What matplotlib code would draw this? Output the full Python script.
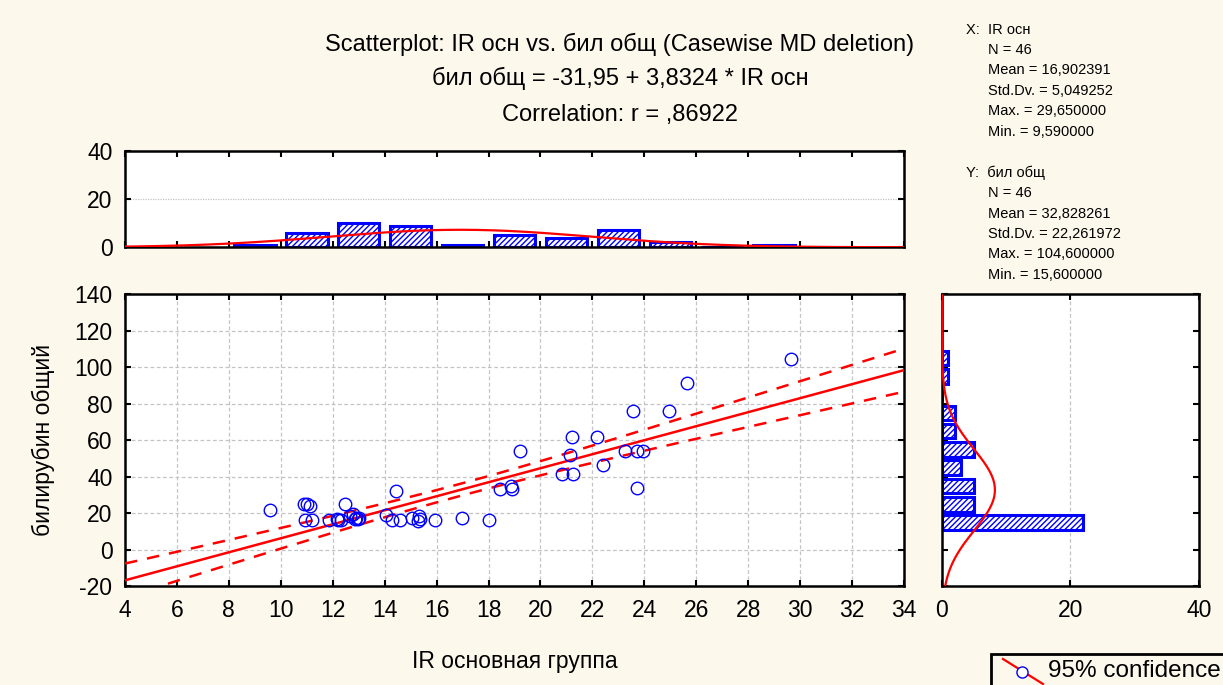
import numpy as np
import matplotlib
matplotlib.use('Agg')
from matplotlib import pyplot as plt
from matplotlib.patches import Rectangle
from matplotlib.lines import Line2D

plt.rcParams['font.family'] = ['Liberation Sans', 'DejaVu Sans']
plt.rcParams['hatch.linewidth'] = 1.0
plt.rcParams['axes.unicode_minus'] = False

# IR основная группа vs билирубин общий, 46 cases
ir_osn = [9.59, 10.89, 11.02, 11.11, 10.94, 11.19, 11.85,
          12.49, 12.18, 12.33, 12.65, 12.78, 12.91, 12.97, 12.85, 12.20, 13.00,
          14.45, 14.07, 14.30, 14.58, 15.07, 15.32, 15.35, 15.93, 15.30,
          16.99, 18.02, 18.45, 18.88, 18.92, 19.22,
          20.81, 21.27, 21.12, 21.20,
          22.18, 22.41, 23.25, 23.72, 23.95, 23.72, 23.57,
          24.94, 25.63, 29.65]
bil_obsch = [21.6, 25.0, 25.0, 24.1, 16.4, 16.4, 16.4,
             25.2, 16.8, 16.4, 18.8, 19.6, 17.7, 17.0, 16.9, 16.5, 17.5,
             32.5, 19.2, 16.4, 16.4, 17.4, 18.3, 16.8, 16.4, 15.6,
             17.4, 16.4, 33.5, 35.1, 33.5, 54.2,
             41.3, 41.3, 52.2, 61.9,
             61.9, 46.6, 54.2, 54.2, 54.2, 33.8, 76.2,
             76.2, 91.1, 104.6]

# summary statistics printed beside the plot
n_cases = 46
x_mean, x_sd, x_max, x_min = 16.902391, 5.049252, 29.65, 9.59
y_mean, y_sd, y_max, y_min = 32.828261, 22.261972, 104.6, 15.6
b0, b1 = -31.95, 3.8324
r_corr = 0.86922
t_975 = 2.0154  # t quantile, 44 df

BG = '#fdf8ec'
BLUE = '#0000ff'
RED = '#ff0000'
FS = 16.5

fig = plt.figure(figsize=(12.23, 6.85), dpi=100, facecolor=BG)

ax = fig.add_axes([0.1022, 0.1438, 0.6370, 0.4270])
ax_top = fig.add_axes([0.1022, 0.6390, 0.6370, 0.1406])
ax_rt = fig.add_axes([0.7702, 0.1438, 0.2101, 0.4270])


def style(a):
    for s in a.spines.values():
        s.set_linewidth(1.8)
        s.set_color('black')
    a.tick_params(direction='in', length=4, width=1.5, labelsize=FS,
                  top=True, right=True, pad=9)


# --- scatter with regression line and 95% band
xx = np.linspace(4, 34, 200)
yy = b0 + b1 * xx
s_res = y_sd * np.sqrt(1 - r_corr ** 2) * np.sqrt((n_cases - 1) / (n_cases - 2))
sxx = (n_cases - 1) * x_sd ** 2
half = t_975 * s_res * np.sqrt(1.0 / n_cases + (xx - x_mean) ** 2 / sxx)

ax.plot(xx, yy, color=RED, lw=1.8, zorder=3)
ax.plot(xx, yy + half, color=RED, lw=1.8, ls=(0, (5, 4)), zorder=3)
ax.plot(xx, yy - half, color=RED, lw=1.8, ls=(0, (5, 4)), zorder=3)
ax.plot(ir_osn, bil_obsch, 'o', mfc='none', mec=BLUE, ms=9, mew=1.0, zorder=4)
ax.set_xlim(4, 34)
ax.set_ylim(-20, 140)
ax.set_xticks(range(4, 35, 2))
ax.set_yticks(range(-20, 141, 20))
ax.grid(True, color='#c4c4c4', ls=(0, (3, 2)), lw=0.9)
ax.set_axisbelow(True)
style(ax)
ax.set_xlabel('IR основная группа', fontsize=FS, labelpad=20)
ax.set_ylabel('билирубин общий', fontsize=FS, labelpad=14)

# --- histogram of X on top
x_centers = [9, 11, 13, 15, 17, 19, 21, 23, 25, 27, 29]
x_counts = [1, 6, 10, 9, 1, 5, 4, 7, 2, 0, 1]
ax_top.bar(x_centers, x_counts, width=1.6, color='white', edgecolor=BLUE,
           lw=2.2, hatch='//////', zorder=2)
ax_top.plot(xx, n_cases * 2 * np.exp(-0.5 * ((xx - x_mean) / x_sd) ** 2)
            / (x_sd * np.sqrt(2 * np.pi)), color=RED, lw=1.6, zorder=3)
ax_top.set_xlim(4, 34)
ax_top.set_ylim(0, 40)
ax_top.set_xticks(range(4, 35, 2))
ax_top.set_yticks([0, 20, 40])
ax_top.set_xticklabels([])
ax_top.yaxis.grid(True, color='#c4c4c4', ls=(0, (1, 1)), lw=0.9)
ax_top.set_axisbelow(True)
style(ax_top)

# --- histogram of Y on the right
y_centers = [15, 25, 35, 45, 55, 65, 75, 85, 95, 105]
y_counts = [22, 5, 5, 3, 5, 2, 2, 0, 1, 1]
ax_rt.barh(y_centers, y_counts, height=8.0, color='white', edgecolor=BLUE,
           lw=2.2, hatch='//////', zorder=2)
yy2 = np.linspace(-20, 140, 300)
ax_rt.plot(n_cases * 10 * np.exp(-0.5 * ((yy2 - y_mean) / y_sd) ** 2)
           / (y_sd * np.sqrt(2 * np.pi)), yy2, color=RED, lw=1.6, zorder=3)
ax_rt.set_xlim(0, 40)
ax_rt.set_ylim(-20, 140)
ax_rt.set_xticks([0, 20, 40])
ax_rt.set_yticks(range(-20, 141, 20))
ax_rt.set_yticklabels([])
ax_rt.xaxis.grid(True, color='#c4c4c4', ls=(0, (3, 2)), lw=0.9)
ax_rt.set_axisbelow(True)
style(ax_rt)

# --- title lines
fig.text(0.507, 0.935, 'Scatterplot: IR осн vs. бил общ (Casewise MD deletion)',
         ha='center', va='center', fontsize=17)
fig.text(0.507, 0.886, 'бил общ = -31,95 + 3,8324 * IR осн',
         ha='center', va='center', fontsize=17)
fig.text(0.507, 0.832, 'Correlation: r = ,86922',
         ha='center', va='center', fontsize=17)

# --- descriptive statistics
def num(v):
    return f'{v:.6f}'.replace('.', ',')


stat_lines = [
    (0.790, 'X:  IR осн'),
    (0.808, f'N = {n_cases}'),
    (0.808, f'Mean = {num(x_mean)}'),
    (0.808, f'Std.Dv. = {num(x_sd)}'),
    (0.808, f'Max. = {num(x_max)}'),
    (0.808, f'Min. = {num(x_min)}'),
    (None, ''),
    (0.790, 'Y:  бил общ'),
    (0.808, f'N = {n_cases}'),
    (0.808, f'Mean = {num(y_mean)}'),
    (0.808, f'Std.Dv. = {num(y_sd)}'),
    (0.808, f'Max. = {num(y_max)}'),
    (0.808, f'Min. = {num(y_min)}'),
]
y0 = 1 - 29.5 / 685
step = 20.45 / 685
for i, (xpos, line) in enumerate(stat_lines):
    if xpos is None:
        continue
    fig.text(xpos, y0 - i * step, line, ha='left', va='center', fontsize=10.5)

# --- legend box
fig.patches.append(Rectangle((991 / 1223, -0.02), 0.3, (685 - 654) / 685 + 0.02,
                             transform=fig.transFigure, fill=False,
                             edgecolor='black', lw=2))
fig.lines.append(Line2D([1003 / 1223, 1043 / 1223], [1 - 659 / 685, 1 - 684 / 685],
                        transform=fig.transFigure, color=RED, lw=1.6))
fig.lines.append(Line2D([1021.5 / 1223], [1 - 671.5 / 685], transform=fig.transFigure,
                        marker='o', mfc='white', mec=BLUE, ms=8, mew=1.0))
fig.text(1048 / 1223, 1 - 671 / 685, '95% confidence', ha='left', va='center',
         fontsize=17.5)

fig.savefig('out.png', dpi=100, facecolor=BG)
